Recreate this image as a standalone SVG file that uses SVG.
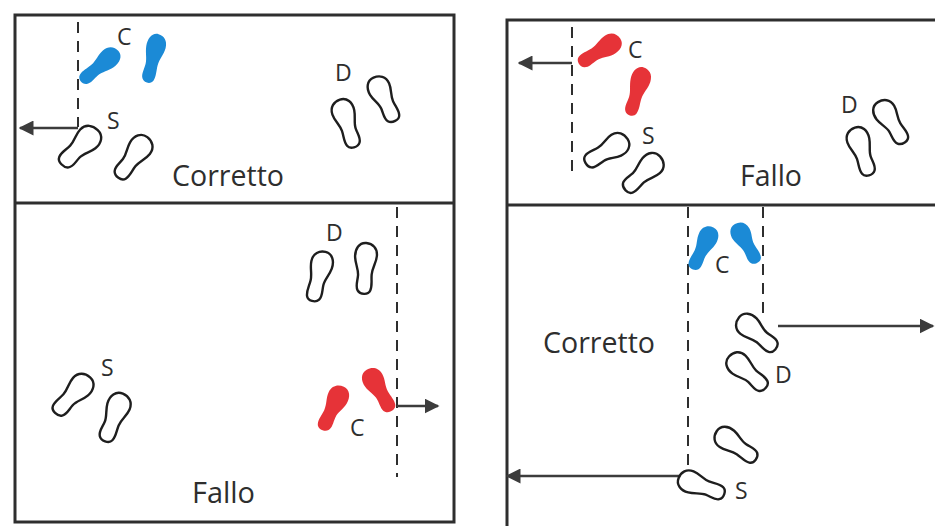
<svg xmlns="http://www.w3.org/2000/svg" width="935" height="526" viewBox="0 0 935 526">
<style>
.frame{fill:none;stroke:#2e2e2e;stroke-width:3}
.dash{stroke:#2e2e2e;stroke-width:2;stroke-dasharray:11 8;fill:none}
.arr{stroke:#3c3c3c;stroke-width:2.5;fill:none}
.w{fill:#fff;stroke:#1e1e1e;stroke-width:2.4}
.b{fill:#1b8ad6;stroke:none}
.r{fill:#e63338;stroke:none}
.lbl{font-family:"Open Sans","DejaVu Sans",sans-serif;font-size:23px;fill:#2e2e2e}
.big{font-family:"Open Sans","DejaVu Sans",sans-serif;font-size:30px;fill:#2e2e2e}
</style>
<defs>
<path id="foot" d="M 1,-25 C 9,-25 13,-18 12,-10 C 11,-3 7,2 7,8 C 7,14 9,19 6,23 C 3,27 -6,27 -8,22 C -10,17 -8,12 -8,6 C -8,-1 -12,-6 -12,-13 C -12,-21 -6,-25 1,-25 Z" vector-effect="non-scaling-stroke"/>
<marker id="ah" viewBox="0 0 10 10" refX="9" refY="5" markerWidth="6" markerHeight="6" orient="auto" markerUnits="strokeWidth">
<path d="M0,0 L10,5 L0,10 Z" fill="#3c3c3c"/>
</marker>
</defs>
<rect width="935" height="526" fill="#fff"/>

<g id="frames">
<rect class="frame" x="15" y="15" width="439" height="507"/>
<line class="frame" x1="15" y1="203" x2="454" y2="203"/>
<rect class="frame" x="507" y="20" width="460" height="530"/>
<line class="frame" x1="507" y1="205" x2="935" y2="205"/>
</g>

<g id="connectors">
<line class="dash" x1="78" y1="22" x2="78" y2="127"/>
<line class="arr" x1="78" y1="128" x2="20" y2="128" marker-end="url(#ah)"/>
<line class="dash" x1="572" y1="27" x2="572" y2="175"/>
<line class="arr" x1="572" y1="63" x2="519" y2="63" marker-end="url(#ah)"/>
<line class="dash" x1="397" y1="207" x2="397" y2="477"/>
<line class="arr" x1="397" y1="406" x2="438" y2="406" marker-end="url(#ah)"/>
<line class="dash" x1="688" y1="207" x2="688" y2="468"/>
<line class="dash" x1="763" y1="207" x2="763" y2="317"/>
<line class="arr" x1="778" y1="326" x2="933" y2="326" marker-end="url(#ah)"/>
<line class="arr" x1="680" y1="476" x2="507" y2="476" marker-end="url(#ah)"/>
</g>

<g id="panel-top-left">
<use href="#foot" class="b" transform="translate(100,66) rotate(49) scale(0.82,0.95)"/>
<use href="#foot" class="b" transform="translate(153,58) rotate(15) scale(-0.8,0.98)"/>
<text class="lbl" x="117" y="45">C</text>
<text class="lbl" x="107" y="129">S</text>
<use href="#foot" class="w" transform="translate(80,147) rotate(44) scale(1,0.98)"/>
<use href="#foot" class="w" transform="translate(133,157) rotate(38) scale(-0.95,0.98)"/>
<text class="lbl" x="335" y="81">D</text>
<use href="#foot" class="w" transform="translate(347,123) rotate(-19) scale(0.92,0.98)"/>
<use href="#foot" class="w" transform="translate(384,99) rotate(-24) scale(-0.92,0.95)"/>
<text class="big" x="172" y="186" textLength="112" lengthAdjust="spacingAndGlyphs">Corretto</text>
</g>

<g id="panel-top-right">
<use href="#foot" class="r" transform="translate(600,51) rotate(57) scale(0.85,0.95)"/>
<use href="#foot" class="r" transform="translate(637,91) rotate(18) scale(-0.82,0.98)"/>
<text class="lbl" x="628" y="58">C</text>
<text class="lbl" x="642" y="144">S</text>
<use href="#foot" class="w" transform="translate(607,151) rotate(58) scale(0.95,0.95)"/>
<use href="#foot" class="w" transform="translate(643,173) rotate(48) scale(-0.95,0.95)"/>
<text class="lbl" x="841" y="113">D</text>
<use href="#foot" class="w" transform="translate(862,151) rotate(-19) scale(0.92,0.98)"/>
<use href="#foot" class="w" transform="translate(891,122) rotate(-31) scale(-0.92,0.95)"/>
<text class="big" x="740" y="186" textLength="62" lengthAdjust="spacingAndGlyphs">Fallo</text>
</g>

<g id="panel-bottom-left">
<text class="lbl" x="326" y="241">D</text>
<use href="#foot" class="w" transform="translate(319,276) rotate(13) scale(0.9,1)"/>
<use href="#foot" class="w" transform="translate(365,268) rotate(5) scale(-0.9,1)"/>
<text class="lbl" x="101" y="376">S</text>
<use href="#foot" class="w" transform="translate(73,395) rotate(42) scale(0.95,0.98)"/>
<use href="#foot" class="w" transform="translate(114,417) rotate(23) scale(-0.95,1)"/>
<use href="#foot" class="r" transform="translate(333,408) rotate(25) scale(0.88,0.95)"/>
<use href="#foot" class="r" transform="translate(379,390) rotate(-29) scale(-0.88,0.95)"/>
<text class="lbl" x="350" y="436">C</text>
<text class="big" x="192" y="503" textLength="63" lengthAdjust="spacingAndGlyphs">Fallo</text>
</g>

<g id="panel-bottom-right">
<use href="#foot" class="b" transform="translate(703,248) rotate(25) scale(0.82,0.92)"/>
<use href="#foot" class="b" transform="translate(746,243) rotate(-28) scale(-0.82,0.88)"/>
<text class="lbl" x="715" y="273">C</text>
<text class="big" x="543" y="353" textLength="112" lengthAdjust="spacingAndGlyphs">Corretto</text>
<use href="#foot" class="w" transform="translate(757,333) rotate(-51) scale(0.92,0.95)"/>
<use href="#foot" class="w" transform="translate(747,372) rotate(-47) scale(-0.92,0.95)"/>
<text class="lbl" x="775" y="383">D</text>
<use href="#foot" class="w" transform="translate(736,445) rotate(-56) scale(0.9,0.95)"/>
<use href="#foot" class="w" transform="translate(701,486) rotate(-68) scale(-0.9,0.95)"/>
<text class="lbl" x="735" y="499">S</text>
</g>
</svg>
